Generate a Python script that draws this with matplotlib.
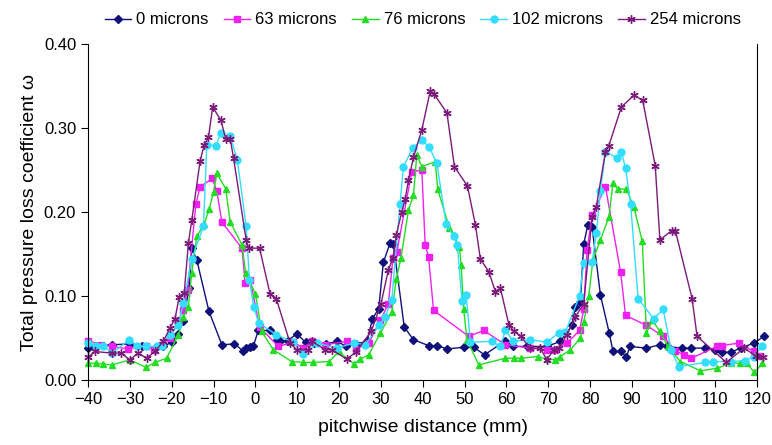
import matplotlib.pyplot as plt
from matplotlib.ticker import FormatStrFormatter

plt.rcParams['font.family'] = ['Liberation Sans', 'DejaVu Sans']

# 0 microns
x0 = [-40, -38, -34.3, -30, -27, -24, -22, -20, -18.5, -17.3, -15.8, -15.2, -14, -11.1, -8, -5, -3,
      -2.3, -1.3, -0.5, 0.7, 3.5, 5.1, 5.9, 7.8, 9.9, 12, 14, 17, 19.6, 21.7, 24, 26.7, 28, 29.5,
      30.6, 32.2, 33, 35.6, 37.8, 41.4, 43.5, 45.8, 49.8, 52.2, 54.8, 59.8, 61.6, 65, 69.7, 72.9,
      75.7, 76.5, 77.7, 78.5, 79.5, 80.5, 82.5, 84.6, 85.5, 87.5, 88.7, 89.5, 93.5, 96.7, 98.3, 102,
      104.2, 107.6, 110, 111.6, 113.6, 116, 119.2, 121.6]
y0 = [0.038, 0.041, 0.042, 0.043, 0.040, 0.038, 0.040, 0.045, 0.055, 0.070, 0.110, 0.157, 0.143,
      0.082, 0.042, 0.043, 0.035, 0.038, 0.039, 0.040, 0.059, 0.059, 0.048, 0.046, 0.047, 0.055,
      0.045, 0.044, 0.043, 0.046, 0.040, 0.043, 0.046, 0.073, 0.085, 0.140, 0.163, 0.162, 0.063,
      0.048, 0.041, 0.041, 0.037, 0.039, 0.039, 0.030, 0.047, 0.040, 0.040, 0.040, 0.046, 0.065,
      0.087, 0.093, 0.162, 0.185, 0.182, 0.101, 0.056, 0.034, 0.034, 0.027, 0.040, 0.038, 0.042,
      0.040, 0.038, 0.038, 0.038, 0.036, 0.033, 0.033, 0.038, 0.044, 0.052]

# 63 microns
x63 = [-40, -37, -34.3, -30.4, -26.1, -24.3, -22.4, -20.5, -18.4, -17.4, -16.2, -14.2, -13.2, -10.3,
       -9.2, -8.0, -3.2, -2.4, -1.2, 1.0, 5.5, 9.1, 11.5, 13.5, 16.7, 21.9, 24.1, 27.1, 29.9, 31.8,
       32.9, 33.8, 37.4, 39.8, 40.6, 41.4, 42.6, 51, 54.6, 59.8, 65.7, 69.7, 71.6, 74.5, 77.5, 78.5,
       79.3, 80.5, 83.7, 87.3, 88.5, 93.5, 97.5, 100.4, 102.4, 104.2, 110.4, 111.5, 115.6, 119.2, 120.5]
y63 = [0.047, 0.042, 0.040, 0.037, 0.041, 0.036, 0.042, 0.050, 0.069, 0.083, 0.107, 0.210, 0.230,
       0.240, 0.225, 0.188, 0.157, 0.115, 0.119, 0.063, 0.040, 0.045, 0.038, 0.046, 0.042, 0.046,
       0.037, 0.044, 0.071, 0.091, 0.145, 0.152, 0.248, 0.250, 0.161, 0.147, 0.083, 0.052, 0.059,
       0.042, 0.038, 0.036, 0.036, 0.044, 0.059, 0.084, 0.155, 0.196, 0.230, 0.129, 0.077, 0.065,
       0.052, 0.035, 0.030, 0.026, 0.040, 0.041, 0.044, 0.034, 0.029]

# 76 microns
x76 = [-40, -38, -36.3, -34.3, -30, -26.1, -24, -21.2, -18.4, -17.2, -16, -15.2, -14, -12.2, -11,
       -10, -9.2, -7.1, -6, -3.2, -2.3, 0, 1.5, 4.3, 8.7, 11.5, 13.9, 17.7, 19.9, 23.6, 25.1, 27.1,
       29.9, 32.6, 33.7, 34.8, 36.6, 37.8, 38.6, 39.8, 43, 43.6, 46.4, 47.4, 48.8, 49.2, 49.8, 50.6,
       53.4, 59.8, 61.8, 63.6, 67.5, 69.7, 71.7, 72.9, 75.3, 77.7, 78.5, 79.7, 80.7, 82.5, 84.5,
       85.5, 86.6, 88.7, 90.5, 92.5, 93.5, 94.9, 96.7, 98.6, 101.6, 106.4, 110.4, 113.6, 115.8,
       117.5, 119.3, 121.2]
y76 = [0.020, 0.020, 0.019, 0.018, 0.024, 0.015, 0.021, 0.026, 0.054, 0.075, 0.087, 0.128, 0.171,
       0.186, 0.204, 0.224, 0.246, 0.228, 0.188, 0.161, 0.127, 0.103, 0.058, 0.036, 0.022, 0.021,
       0.021, 0.022, 0.034, 0.019, 0.025, 0.030, 0.056, 0.081, 0.120, 0.145, 0.202, 0.220, 0.268,
       0.254, 0.260, 0.227, 0.181, 0.173, 0.158, 0.137, 0.084, 0.048, 0.018, 0.026, 0.026, 0.026,
       0.028, 0.025, 0.024, 0.028, 0.036, 0.050, 0.069, 0.100, 0.143, 0.167, 0.194, 0.234, 0.228,
       0.227, 0.206, 0.165, 0.056, 0.071, 0.058, 0.040, 0.022, 0.011, 0.014, 0.020, 0.020, 0.020,
       0.009, 0.020]

# 102 microns
x102 = [-40, -38, -36.3, -34.3, -30.1, -28.4, -26.1, -23.6, -22.4, -20.4, -18.4, -17.2, -15.2,
        -12.4, -11.6, -9.4, -8.3, -6, -4.3, -2.2, -1.4, -0.4, 0.8, 5, 9.1, 11.5, 14.7, 19.5, 23.6,
        26.3, 29.5, 31, 32.6, 34.6, 35.4, 37.6, 39.8, 41.6, 43.4, 45.6, 47.4, 48.3, 49.4, 50.4, 51.4,
        56.6, 58.6, 59.8, 61.6, 65.6, 69.7, 72.5, 74.1, 77.5, 78.5, 80.5, 81.5, 82.5, 83.7, 86.5,
        87.5, 88.5, 89.7, 91.5, 95.2, 97.5, 99.4, 101.2, 107.6, 109.5, 113.6, 117, 119.2, 121]
y102 = [0.044, 0.041, 0.041, 0.032, 0.048, 0.040, 0.040, 0.040, 0.041, 0.054, 0.065, 0.092, 0.144,
        0.183, 0.280, 0.279, 0.294, 0.290, 0.262, 0.183, 0.119, 0.087, 0.068, 0.054, 0.045, 0.031,
        0.044, 0.038, 0.044, 0.042, 0.065, 0.075, 0.095, 0.210, 0.254, 0.276, 0.286, 0.277, 0.258,
        0.186, 0.171, 0.161, 0.094, 0.101, 0.045, 0.046, 0.040, 0.060, 0.046, 0.048, 0.045, 0.056,
        0.057, 0.100, 0.139, 0.140, 0.175, 0.225, 0.272, 0.264, 0.272, 0.252, 0.210, 0.097, 0.073,
        0.084, 0.036, 0.016, 0.021, 0.022, 0.022, 0.023, 0.028, 0.040]

# 254 microns
x254 = [-40, -38.3, -34.3, -32, -30, -28, -26, -24, -22, -20.4, -19.2, -18.2, -17, -16, -15.2,
        -13.2, -12.2, -11.2, -10.2, -8.2, -7.1, -6, -5.2, -2.2, -1.6, 1, 3.5, 5, 8.3, 9.9, 12.7,
        13.5, 16.7, 18.3, 21.8, 24, 27.7, 30, 31.8, 32.9, 33.7, 35, 35.8, 36.6, 37.8, 39.8, 41.8,
        42.8, 45.8, 47.6, 50.7, 52.6, 53.8, 55.8, 57.4, 58.6, 60.6, 61.8, 63.5, 65.6, 68.1, 69.7,
        71.3, 72.5, 74.5, 76.5, 78.5, 80.5, 81.5, 83.7, 84.5, 87.5, 90.5, 92.6, 95.6, 96.7, 99.6,
        100.4, 104.4, 105.6, 112.6, 116.8, 119.6, 121.4]
y254 = [0.027, 0.034, 0.032, 0.032, 0.024, 0.032, 0.026, 0.034, 0.046, 0.062, 0.073, 0.099, 0.104,
        0.163, 0.190, 0.261, 0.280, 0.289, 0.325, 0.309, 0.287, 0.287, 0.264, 0.167, 0.157, 0.157,
        0.103, 0.097, 0.044, 0.036, 0.036, 0.046, 0.036, 0.036, 0.025, 0.033, 0.058, 0.090, 0.131,
        0.145, 0.173, 0.200, 0.215, 0.238, 0.265, 0.298, 0.344, 0.340, 0.318, 0.254, 0.231, 0.185,
        0.144, 0.129, 0.105, 0.109, 0.066, 0.058, 0.052, 0.038, 0.038, 0.024, 0.036, 0.038, 0.054,
        0.075, 0.091, 0.194, 0.206, 0.272, 0.279, 0.325, 0.339, 0.333, 0.255, 0.167, 0.178, 0.178,
        0.097, 0.052, 0.021, 0.038, 0.029, 0.027]

labels = ['0 microns', '63 microns', '76 microns', '102 microns', '254 microns']
xs = [x0, x63, x76, x102, x254]
ys = [y0, y63, y76, y102, y254]
colors = ['#10107a', '#f020f0', '#22dd22', '#33ddff', '#7b1a7b']
markers = ['D', 's', '^', 'o', (6, 2, 0)]
msizes = [4, 4.5, 5, 5, 6]

fig = plt.figure(figsize=(7.72, 4.45), dpi=100)
ax = fig.add_axes([0.114, 0.146, 0.867, 0.755])

for x, y, c, m, ms, lab in zip(xs, ys, colors, markers, msizes, labels):
    ax.plot(x, y, color=c, marker=m, markersize=ms, linewidth=1.0, label=lab,
            markeredgecolor=c, clip_on=False)

ax.set_xlim(-40, 120)
ax.set_ylim(0, 0.40)
ax.set_xticks(range(-40, 121, 10))
ax.set_yticks([0, 0.1, 0.2, 0.3, 0.4])
ax.yaxis.set_major_formatter(FormatStrFormatter('%.2f'))
ax.tick_params(direction='out', length=5, labelsize=12)
ax.spines['top'].set_visible(False)
ax.set_xlabel('pitchwise distance (mm)', fontsize=14, labelpad=9)
ax.set_ylabel('Total pressure loss coefficient ω', fontsize=14)

ax.legend(loc='lower center', bbox_to_anchor=(0.5, 1.0), ncol=5, frameon=False,
          fontsize=12, handlelength=1.6, columnspacing=0.9, handletextpad=0.3,
          borderaxespad=0.6)

plt.savefig('out.png', dpi=100)
